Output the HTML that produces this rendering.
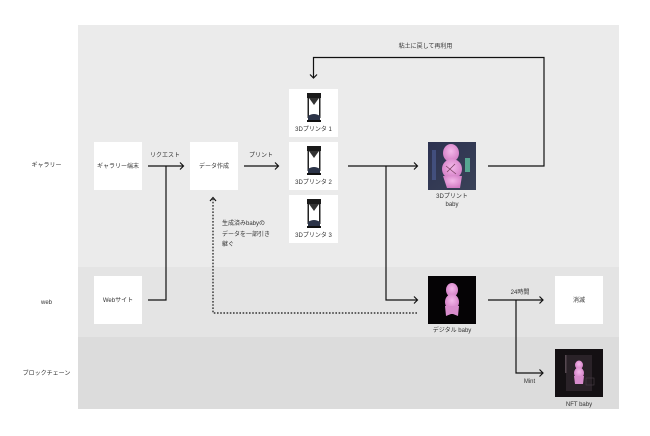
<!DOCTYPE html>
<html><head><meta charset="utf-8"><style>
html,body{margin:0;padding:0;background:#fff;width:650px;height:436px;overflow:hidden}
svg{display:block}
text{font-family:"Liberation Sans","Noto Sans CJK JP",sans-serif;font-size:6px;fill:#333}
</style></head><body>
<svg width="650" height="436" viewBox="0 0 650 436" xmlns="http://www.w3.org/2000/svg">
<defs>
<radialGradient id="pk" cx="50%" cy="40%" r="60%"><stop offset="0" stop-color="#f4b8ea"/><stop offset="1" stop-color="#d27cc4"/></radialGradient>
<linearGradient id="bg3d" x1="0" y1="0" x2="1" y2="1"><stop offset="0" stop-color="#2c3150"/><stop offset="1" stop-color="#3a4258"/></linearGradient>
</defs>
<!-- bands -->
<rect x="78" y="25" width="541" height="242" fill="#ebebeb"/>
<rect x="78" y="267" width="541" height="70" fill="#e4e4e4"/>
<rect x="78" y="337" width="541" height="72" fill="#dcdcdc"/>
<!-- lane labels -->
<text x="46.5" y="167" text-anchor="middle">ギャラリー</text>
<text x="46.5" y="304" text-anchor="middle">web</text>
<text x="46.5" y="375" text-anchor="middle">ブロックチェーン</text>
<!-- boxes -->
<rect x="94" y="142" width="48" height="48" fill="#fff"/>
<text x="118" y="168" text-anchor="middle">ギャラリー端末</text>
<rect x="190" y="142" width="48" height="48" fill="#fff"/>
<text x="214" y="168" text-anchor="middle">データ作成</text>
<rect x="94" y="276" width="48" height="48" fill="#fff"/>
<text x="118" y="302" text-anchor="middle">Webサイト</text>
<rect x="555" y="276" width="48" height="48" fill="#fff"/>
<text x="579" y="302" text-anchor="middle">消滅</text>
<!-- printers -->
<g id="p1">
<rect x="289" y="89" width="49" height="48" fill="#fff"/>
<rect x="307" y="93" width="14" height="5" fill="#1a1a1a"/>
<path d="M309,98 L319,98 L314,105 Z" fill="#333"/>
<rect x="307.5" y="98" width="1.5" height="20" fill="#222"/>
<rect x="319" y="98" width="1.5" height="20" fill="#222"/>
<path d="M308,116 Q314,112 320,116 L320,121 L308,121 Z" fill="#2c3448"/>
<rect x="307" y="120" width="14" height="2" fill="#111"/>
<text x="313.5" y="131" text-anchor="middle">3Dプリンタ 1</text>
</g>
<g transform="translate(0,53)">
<rect x="289" y="89" width="49" height="48" fill="#fff"/>
<rect x="307" y="93" width="14" height="5" fill="#1a1a1a"/>
<path d="M309,98 L319,98 L314,105 Z" fill="#333"/>
<rect x="307.5" y="98" width="1.5" height="20" fill="#222"/>
<rect x="319" y="98" width="1.5" height="20" fill="#222"/>
<path d="M308,116 Q314,112 320,116 L320,121 L308,121 Z" fill="#2c3448"/>
<rect x="307" y="120" width="14" height="2" fill="#111"/>
<text x="313.5" y="131" text-anchor="middle">3Dプリンタ 2</text>
</g>
<g transform="translate(0,106)">
<rect x="289" y="89" width="49" height="48" fill="#fff"/>
<rect x="307" y="93" width="14" height="5" fill="#1a1a1a"/>
<path d="M309,98 L319,98 L314,105 Z" fill="#333"/>
<rect x="307.5" y="98" width="1.5" height="20" fill="#222"/>
<rect x="319" y="98" width="1.5" height="20" fill="#222"/>
<path d="M308,116 Q314,112 320,116 L320,121 L308,121 Z" fill="#2c3448"/>
<rect x="307" y="120" width="14" height="2" fill="#111"/>
<text x="313.5" y="131" text-anchor="middle">3Dプリンタ 3</text>
</g>
<!-- 3D print baby image -->
<rect x="428" y="142" width="48" height="48" fill="url(#bg3d)"/>
<rect x="432" y="150" width="4" height="30" fill="#4a5a90" opacity="0.7"/>
<rect x="465" y="158" width="5" height="14" fill="#5fc0a0" opacity="0.8"/>
<ellipse cx="451" cy="153" rx="8" ry="9" fill="url(#pk)"/>
<ellipse cx="452" cy="169" rx="10" ry="10" fill="url(#pk)"/>
<path d="M443,176 L447,188 L460,188 L462,176 Z" fill="url(#pk)"/>
<path d="M446,166 L456,174 M455,164 L447,172" stroke="#7a4060" stroke-width="0.8"/>
<text x="452" y="198" text-anchor="middle">3Dプリント</text>
<text x="452" y="206" text-anchor="middle">baby</text>
<!-- digital baby -->
<rect x="428" y="276" width="48" height="48" fill="#050305"/>
<ellipse cx="452" cy="290" rx="6" ry="7" fill="url(#pk)"/>
<ellipse cx="452" cy="302" rx="7" ry="8" fill="url(#pk)"/>
<path d="M445,306 L446,316 L451,314 L453,314 L458,316 L459,306 Z" fill="#d88ccc"/>
<text x="452" y="332" text-anchor="middle">デジタル baby</text>
<!-- NFT baby -->
<rect x="555" y="349" width="48" height="48" fill="#141013"/>
<rect x="566" y="355" width="26" height="36" fill="#2a2228"/>
<rect x="565" y="355" width="1.5" height="18" fill="#554850"/>
<ellipse cx="579" cy="365" rx="4" ry="4.5" fill="url(#pk)"/>
<ellipse cx="579" cy="373" rx="5" ry="5.5" fill="url(#pk)"/>
<path d="M574,376 L575,384 L583,384 L584,376 Z" fill="#d88ccc"/>
<rect x="586" y="378" width="8" height="7" fill="none" stroke="#4a4048" stroke-width="0.6"/>
<text x="579" y="406" text-anchor="middle">NFT baby</text>
<!-- connectors -->
<g fill="none" stroke="#111" stroke-width="1.2">
<path d="M148,166 H183"/><path d="M180,162.5 L183.5,166 L180,169.5"/>
<path d="M166,166 V300 H148"/>
<path d="M244,166 H278"/><path d="M275,162.5 L278.5,166 L275,169.5"/>
<path d="M348,166 H417"/><path d="M414,162.5 L417.5,166 L414,169.5"/>
<path d="M386,166 V300 H417"/><path d="M414,296.5 L417.5,300 L414,303.5"/>
<path d="M488,166 H544 V57.5 H313.5 V78"/><path d="M310,74.5 L313.5,78 L317,74.5"/>
<path d="M488,300 H543"/><path d="M539.5,296.5 L543,300 L539.5,303.5"/>
<path d="M516,300 V373 H543"/><path d="M539.5,369.5 L543,373 L539.5,376.5"/>
</g>
<g fill="none" stroke="#111" stroke-width="1.2" stroke-dasharray="1.6,1.6">
<path d="M417,313 H213 V199"/>
</g>
<path d="M210,201 L213,197.5 L216,201" fill="none" stroke="#111" stroke-width="1.2"/>
<!-- connector labels -->
<text x="165" y="157" text-anchor="middle">リクエスト</text>
<text x="261" y="157" text-anchor="middle">プリント</text>
<text x="425.5" y="48" text-anchor="middle">粘土に戻して再利用</text>
<text x="222" y="225">生成済みbabyの</text>
<text x="222" y="236">データを一部引き</text>
<text x="222" y="246">継ぐ</text>
<text x="520" y="294" text-anchor="middle">24時間</text>
<text x="529.5" y="383" text-anchor="middle">Mint</text>
</svg>
</body></html>
